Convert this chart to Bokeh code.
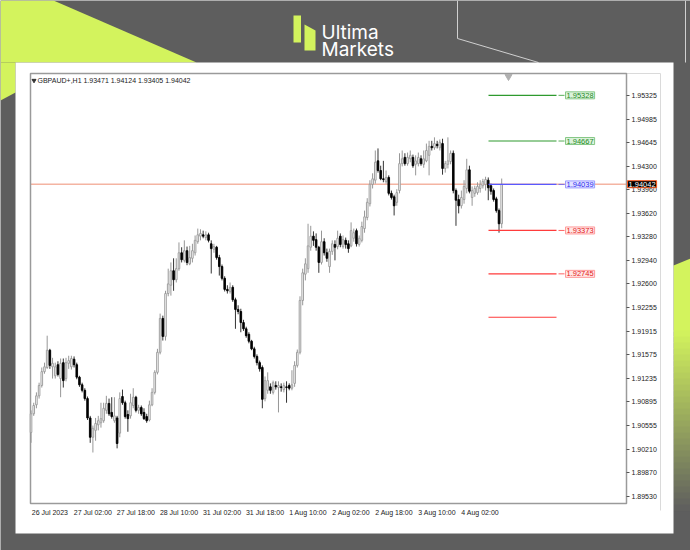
from bokeh.plotting import figure
from bokeh.models import (Range1d, LinearAxis, FixedTicker, Label, ColumnDataSource,
                          PrintfTickFormatter)
from bokeh.embed import file_html
from bokeh.resources import INLINE

# ---------------- data (hourly GBPAUD bars) ----------------
symbol = "GBPAUD+,H1"
opens = [1.9045, 1.9072, 1.9085, 1.9098, 1.9113, 1.9133, 1.9139, 1.9164, 1.9140, 1.9127,
         1.9143, 1.9123, 1.9146, 1.9123, 1.9145, 1.9140, 1.9151, 1.9143, 1.9125, 1.9114,
         1.9106, 1.9094, 1.9066, 1.9038, 1.9048, 1.9056, 1.9059, 1.9062, 1.9077, 1.9087,
         1.9074, 1.9062, 1.9066, 1.9044, 1.9097, 1.9088, 1.9071, 1.9069, 1.9084, 1.9096,
         1.9077, 1.9081, 1.9074, 1.9068, 1.9063, 1.9085, 1.9103, 1.9132, 1.9161, 1.9210,
         1.9184, 1.9246, 1.9258, 1.9279, 1.9266, 1.9282, 1.9305, 1.9294, 1.9308, 1.9289,
         1.9297, 1.9305, 1.9321, 1.9329, 1.9331, 1.9327, 1.9331, 1.9318, 1.9310, 1.9313,
         1.9298, 1.9285, 1.9268, 1.9252, 1.9249, 1.9255, 1.9237, 1.9223, 1.9220, 1.9204,
         1.9195, 1.9187, 1.9177, 1.9166, 1.9155, 1.9146, 1.9139, 1.9094, 1.9106, 1.9111,
         1.9103, 1.9113, 1.9110, 1.9111, 1.9107, 1.9111, 1.9113, 1.9109, 1.9116, 1.9142,
         1.9161, 1.9236, 1.9274, 1.9282, 1.9313, 1.9329, 1.9324, 1.9313, 1.9291, 1.9321,
         1.9305, 1.9285, 1.9307, 1.9317, 1.9314, 1.9329, 1.9314, 1.9323, 1.9318, 1.9315,
         1.9326, 1.9337, 1.9317, 1.9323, 1.9340, 1.9356, 1.9376, 1.9404, 1.9410, 1.9438,
         1.9424, 1.9412, 1.9408, 1.9414, 1.9391, 1.9386, 1.9378, 1.9395, 1.9434, 1.9443,
         1.9434, 1.9441, 1.9443, 1.9433, 1.9434, 1.9441, 1.9433, 1.9438, 1.9446, 1.9459,
         1.9457, 1.9462, 1.9457, 1.9463, 1.9427, 1.9433, 1.9437, 1.9449, 1.9395, 1.9382,
         1.9373, 1.9382, 1.9398, 1.9425, 1.9385, 1.9391, 1.9392, 1.9398, 1.9402, 1.9404,
         1.9410, 1.9402, 1.9395, 1.9383, 1.9366, 1.93471]
highs = [1.9077, 1.9088, 1.9103, 1.9117, 1.9139, 1.9146, 1.9185, 1.9166, 1.9153, 1.9146,
         1.9148, 1.9152, 1.9152, 1.9153, 1.9156, 1.9156, 1.9155, 1.9146, 1.9127, 1.9117,
         1.9109, 1.9097, 1.9069, 1.9055, 1.9066, 1.9069, 1.9088, 1.9088, 1.9098, 1.9094,
         1.9096, 1.9096, 1.9069, 1.9103, 1.9107, 1.9091, 1.9077, 1.9101, 1.9109, 1.9098,
         1.9085, 1.9084, 1.9080, 1.9072, 1.9091, 1.9109, 1.9135, 1.9166, 1.9217, 1.9214,
         1.9250, 1.9282, 1.9291, 1.9297, 1.9297, 1.9320, 1.9313, 1.9323, 1.9314, 1.9315,
         1.9318, 1.9330, 1.9340, 1.9339, 1.9337, 1.9336, 1.9334, 1.9323, 1.9318, 1.9315,
         1.9302, 1.9288, 1.9271, 1.9258, 1.9262, 1.9258, 1.9240, 1.9229, 1.9224, 1.9208,
         1.9198, 1.9190, 1.9179, 1.9169, 1.9158, 1.9149, 1.9142, 1.9126, 1.9132, 1.9116,
         1.9120, 1.9119, 1.9119, 1.9116, 1.9117, 1.9119, 1.9116, 1.9135, 1.9148, 1.9165,
         1.9242, 1.9282, 1.9297, 1.9347, 1.9344, 1.9336, 1.9333, 1.9315, 1.9337, 1.9326,
         1.9311, 1.9311, 1.9323, 1.9323, 1.9337, 1.9333, 1.9330, 1.9327, 1.9323, 1.9349,
         1.9340, 1.9340, 1.9330, 1.9350, 1.9366, 1.9384, 1.9410, 1.9420, 1.9453, 1.9456,
         1.9431, 1.9438, 1.9424, 1.9417, 1.9395, 1.9389, 1.9397, 1.9449, 1.9453, 1.9449,
         1.9450, 1.9453, 1.9447, 1.9446, 1.9450, 1.9446, 1.9453, 1.9463, 1.9467, 1.9467,
         1.9472, 1.9467, 1.9469, 1.9470, 1.9438, 1.9472, 1.9453, 1.9453, 1.9398, 1.9389,
         1.9395, 1.9410, 1.9441, 1.9431, 1.9401, 1.9402, 1.9407, 1.9410, 1.9412, 1.9415,
         1.9414, 1.9405, 1.9398, 1.9386, 1.9369, 1.94124]
lows = [1.9030, 1.9069, 1.9080, 1.9094, 1.9110, 1.9130, 1.9137, 1.9137, 1.9123, 1.9123,
        1.9126, 1.9096, 1.9110, 1.9119, 1.9137, 1.9136, 1.9139, 1.9122, 1.9111, 1.9103,
        1.9091, 1.9063, 1.9030, 1.9016, 1.9033, 1.9048, 1.9052, 1.9059, 1.9072, 1.9069,
        1.9065, 1.9059, 1.9022, 1.9038, 1.9085, 1.9065, 1.9046, 1.9065, 1.9080, 1.9074,
        1.9072, 1.9069, 1.9063, 1.9059, 1.9061, 1.9083, 1.9100, 1.9129, 1.9158, 1.9178,
        1.9178, 1.9242, 1.9243, 1.9250, 1.9262, 1.9279, 1.9291, 1.9291, 1.9287, 1.9287,
        1.9291, 1.9301, 1.9318, 1.9323, 1.9326, 1.9323, 1.9320, 1.9275, 1.9305, 1.9295,
        1.9272, 1.9265, 1.9249, 1.9246, 1.9246, 1.9234, 1.9195, 1.9216, 1.9190, 1.9192,
        1.9182, 1.9174, 1.9164, 1.9152, 1.9142, 1.9133, 1.9080, 1.9090, 1.9101, 1.9101,
        1.9100, 1.9107, 1.9074, 1.9104, 1.9103, 1.9088, 1.9106, 1.9106, 1.9111, 1.9139,
        1.9158, 1.9229, 1.9265, 1.9276, 1.9308, 1.9315, 1.9308, 1.9276, 1.9288, 1.9301,
        1.9292, 1.9276, 1.9302, 1.9294, 1.9310, 1.9313, 1.9311, 1.9311, 1.9305, 1.9313,
        1.9321, 1.9314, 1.9314, 1.9320, 1.9334, 1.9352, 1.9372, 1.9398, 1.9405, 1.9421,
        1.9410, 1.9407, 1.9405, 1.9388, 1.9382, 1.9359, 1.9373, 1.9391, 1.9430, 1.9431,
        1.9431, 1.9436, 1.9428, 1.9417, 1.9430, 1.9431, 1.9428, 1.9436, 1.9417, 1.9453,
        1.9454, 1.9456, 1.9453, 1.9418, 1.9421, 1.9427, 1.9433, 1.9391, 1.9344, 1.9362,
        1.9369, 1.9376, 1.9391, 1.9391, 1.9373, 1.9386, 1.9389, 1.9392, 1.9398, 1.9395,
        1.9381, 1.9389, 1.9379, 1.9363, 1.9334, 1.93405]
closes = [1.9072, 1.9084, 1.9098, 1.9113, 1.9133, 1.9140, 1.9164, 1.9142, 1.9145, 1.9140,
          1.9129, 1.9145, 1.9120, 1.9146, 1.9149, 1.9152, 1.9143, 1.9125, 1.9114, 1.9106,
          1.9094, 1.9066, 1.9038, 1.9051, 1.9058, 1.9062, 1.9065, 1.9080, 1.9087, 1.9072,
          1.9068, 1.9069, 1.9029, 1.9094, 1.9088, 1.9068, 1.9065, 1.9088, 1.9096, 1.9077,
          1.9081, 1.9072, 1.9065, 1.9062, 1.9085, 1.9103, 1.9132, 1.9161, 1.9210, 1.9184,
          1.9246, 1.9260, 1.9279, 1.9266, 1.9282, 1.9305, 1.9295, 1.9308, 1.9291, 1.9298,
          1.9308, 1.9323, 1.9331, 1.9333, 1.9329, 1.9331, 1.9323, 1.9311, 1.9314, 1.9298,
          1.9285, 1.9268, 1.9252, 1.9250, 1.9255, 1.9237, 1.9223, 1.9220, 1.9204, 1.9195,
          1.9185, 1.9177, 1.9166, 1.9155, 1.9146, 1.9137, 1.9093, 1.9120, 1.9120, 1.9106,
          1.9117, 1.9111, 1.9113, 1.9110, 1.9113, 1.9110, 1.9109, 1.9114, 1.9142, 1.9161,
          1.9236, 1.9276, 1.9289, 1.9315, 1.9329, 1.9323, 1.9313, 1.9291, 1.9321, 1.9305,
          1.9297, 1.9307, 1.9318, 1.9313, 1.9326, 1.9317, 1.9324, 1.9317, 1.9311, 1.9337,
          1.9334, 1.9318, 1.9326, 1.9343, 1.9357, 1.9378, 1.9404, 1.9412, 1.9436, 1.9424,
          1.9412, 1.9411, 1.9414, 1.9391, 1.9385, 1.9373, 1.9392, 1.9434, 1.9441, 1.9434,
          1.9443, 1.9446, 1.9431, 1.9438, 1.9443, 1.9434, 1.9441, 1.9453, 1.9459, 1.9457,
          1.9463, 1.9460, 1.9465, 1.9427, 1.9434, 1.9438, 1.9449, 1.9395, 1.9381, 1.9373,
          1.9385, 1.9401, 1.9425, 1.9394, 1.9395, 1.9398, 1.9401, 1.9404, 1.9408, 1.9411,
          1.9399, 1.9394, 1.9382, 1.9366, 1.9347, 1.94042]

x_tick_bars = [0, 16, 32, 48, 64, 80, 96, 112, 128, 144, 160]
x_tick_labels = ["26 Jul 2023", "27 Jul 02:00", "27 Jul 18:00", "28 Jul 10:00", "31 Jul 02:00",
                 "31 Jul 18:00", "1 Aug 10:00", "2 Aug 02:00", "2 Aug 18:00", "3 Aug 10:00",
                 "4 Aug 02:00"]
y_ticks = [1.95325, 1.94985, 1.94645, 1.94300, 1.93960, 1.93620, 1.93280, 1.92940, 1.92600,
           1.92255, 1.91915, 1.91575, 1.91235, 1.90895, 1.90555, 1.90210, 1.89870, 1.89530]

level_prices = [1.95328, 1.94667, 1.94039, 1.93373, 1.92745, 1.92117]
level_labels = ["1.95328", "1.94667", "1.94039", "1.93373", "1.92745", ""]
level_kinds = ["green", "green", "blue", "red", "red", "red"]

# ---------------- geometry ----------------
CW, CH = 690, 550                       # canvas = whole picture
FL, FR, FT, FB = 30, 626, 73, 503       # chart frame edges, picture pixels
X0, X1 = -0.2, 221.4                    # bar-index span of the chart frame
Y0, Y1 = 1.89422, 1.95644               # price span of the chart frame


def fx(rx):
    return X0 + (rx - FL) / (FR - FL) * (X1 - X0)


def fy(ry):
    return Y1 - (ry - FT) / (FB - FT) * (Y1 - Y0)


DARK = "#5e5e5e"
LIME = "#d3f35d"
FONT = "Liberation Sans"

p = figure(width=CW, height=CH, x_range=Range1d(fx(0), fx(CW)), y_range=Range1d(fy(CH), fy(0)),
           output_backend="svg", toolbar_location=None, title=None,
           x_axis_location=None, y_axis_location=None,
           min_border_left=0, min_border_right=0, min_border_top=0, min_border_bottom=0)
p.grid.visible = False
p.outline_line_color = None
p.background_fill_color = DARK
p.border_fill_color = DARK


def patch(pts, color):
    p.patch(x=[fx(a) for a, _ in pts], y=[fy(b) for _, b in pts], fill_color=color,
            line_color=None)


# ---------------- card background ----------------
patch([(0, 0), (53, 0), (196, 62), (0, 62)], LIME)
patch([(0, 62), (15, 62), (15, 92), (0, 100)], LIME)

# soft lime-to-grey fade on the right edge
lime_rgb = (211, 243, 93)
dark_rgb = (94, 94, 94)
fade_top, fade_start, fade_end = 258, 330, 510
patch([(673, fade_top + 7), (690, fade_top), (690, fade_start + 1), (673, fade_start + 1)], LIME)
n_steps = 30
for k in range(n_steps):
    t0 = fade_start + (fade_end - fade_start) * k / n_steps
    t1 = fade_start + (fade_end - fade_start) * (k + 1) / n_steps
    f = (k + 0.5) / n_steps
    col = "#%02x%02x%02x" % tuple(int(round(a + (b - a) * f)) for a, b in zip(lime_rgb, dark_rgb))
    patch([(673, t0), (690, t0), (690, t1 + 0.6), (673, t1 + 0.6)], col)

p.line(x=[fx(457), fx(457), fx(538)], y=[fy(0), fy(38), fy(62)], line_color="#d0d0d0",
       line_width=1)
p.line(x=[fx(685), fx(685)], y=[fy(0), fy(62)], line_color="#d0d0d0", line_width=1)

p.quad(left=[fx(15)], right=[fx(673)], top=[fy(62)], bottom=[fy(533)], fill_color="white",
       line_color=None)

# logo
patch([(293, 15), (300.5, 15), (300.5, 42), (293, 42)], LIME)
patch([(304, 24), (315, 30), (315, 50), (304, 50)], LIME)
p.add_layout(Label(x=fx(321), y=fy(32), text="Ultima", text_font="Inter", text_font_size="19px",
                   text_color="white", text_baseline="alphabetic"))
p.add_layout(Label(x=fx(321), y=fy(49), text="Markets", text_font="Inter", text_font_size="19px",
                   text_color="white", text_baseline="alphabetic"))

# ---------------- chart window ----------------
p.segment(x0=[X1, fx(660)], x1=[fx(660), fx(660)], y0=[Y1, Y1], y1=[Y1, fy(510)],
          line_color="#dadada", line_width=1)
last = closes[-1]
p.segment(x0=[X0], x1=[X1], y0=[last], y1=[last], line_color="#f4b4a2", line_width=1.5)
p.quad(left=[X0], right=[X1], top=[Y1], bottom=[Y0], fill_color=None,
       line_color="#9a9a9a", line_width=1.5)

yax = LinearAxis(ticker=FixedTicker(ticks=y_ticks), formatter=PrintfTickFormatter(format="%.5f"),
                 fixed_location=X1)
yax.axis_line_color = None
yax.major_tick_in = 0
yax.major_tick_out = 3
yax.major_tick_line_color = "#555555"
yax.minor_tick_line_color = None
yax.major_label_standoff = 2
yax.major_label_text_font = FONT
yax.major_label_text_font_size = "7px"
yax.major_label_text_color = "#222222"
p.add_layout(yax, "right")

# MT4 prints the time stamps to the right of their bar: centre each label there
x_label_pos = [b + 7.0 for b in x_tick_bars]
xax = LinearAxis(ticker=FixedTicker(ticks=x_label_pos),
                 major_label_overrides=dict(zip(x_label_pos, x_tick_labels)),
                 fixed_location=Y0)
xax.axis_line_color = None
xax.major_tick_in = 0
xax.major_tick_out = 2
xax.major_tick_line_color = None
xax.minor_tick_line_color = None
xax.major_label_standoff = 3
xax.major_label_text_font = FONT
xax.major_label_text_font_size = "7px"
xax.major_label_text_color = "#222222"
p.add_layout(xax, "below")

# ---------------- candles ----------------
idx = list(range(len(closes)))
up = [c >= o for o, c in zip(opens, closes)]


def pick(arr, flag):
    return [a for a, f in zip(arr, up) if f == flag]


for flag, fill, line, wick in [(True, "#ffffff", "#979797", "#979797"),
                               (False, "#000000", "#000000", "#333333")]:
    o = pick(opens, flag)
    c = pick(closes, flag)
    src = ColumnDataSource(dict(x=pick(idx, flag), h=pick(highs, flag), l=pick(lows, flag),
                                top=[max(a, b) for a, b in zip(o, c)],
                                bot=[min(a, b) for a, b in zip(o, c)]))
    p.segment(x0="x", x1="x", y0="l", y1="h", source=src, line_color=wick, line_width=1)
    p.vbar(x="x", width=0.6, top="top", bottom="bot", source=src,
           fill_color=fill, line_color=line, line_width=0.9)

# ---------------- level lines ----------------
kind_style = {
    "green": ("#2e9a2e", "#1d8a1d", "#dcf2dc", "#86c886"),
    "blue": ("#5a5aff", "#2c2cf0", "#e3e3ff", "#9c9cff"),
    "red": ("#ff3b3b", "#e32020", "#ffe6e6", "#ff9a9a"),
}
for price, lab, kind in zip(level_prices, level_labels, level_kinds):
    lc, tc, bg, bd = kind_style[kind]
    p.segment(x0=[fx(488)], x1=[fx(556)], y0=[price], y1=[price], line_color=lc, line_width=1.2)
    if lab:
        p.segment(x0=[fx(558)], x1=[fx(564)], y0=[price], y1=[price], line_color=lc,
                  line_width=0.8)
        p.add_layout(Label(x=fx(565), y=price, text=lab, text_font=FONT, text_font_size="7.5px",
                           text_color=tc, text_baseline="middle", text_align="left",
                           background_fill_color=bg, border_line_color=bd, padding=1))

# shift marker at the top of the chart
p.scatter(x=[fx(508)], y=[fy(76)], marker="inverted_triangle", size=7,
          fill_color="#b0b0b0", line_color="#b0b0b0")

# chart caption
p.scatter(x=[fx(33.5)], y=[fy(80)], marker="inverted_triangle", size=4,
          fill_color="#333333", line_color="#333333")
p.add_layout(Label(x=fx(37), y=fy(80),
                   text=f"{symbol}  {opens[-1]:.5f} {highs[-1]:.5f} {lows[-1]:.5f} {closes[-1]:.5f}",
                   text_font=FONT, text_font_size="7px", text_color="#222222",
                   text_baseline="middle"))

# price tag on the scale
p.add_layout(Label(x=fx(627), y=last, text=f"{last:.5f}", text_font=FONT, text_font_size="7.5px",
                   text_color="white", text_baseline="middle", background_fill_color="black",
                   border_line_color="#ff5a1f", padding=1))

open("out.html", "w").write(file_html(p, INLINE))
